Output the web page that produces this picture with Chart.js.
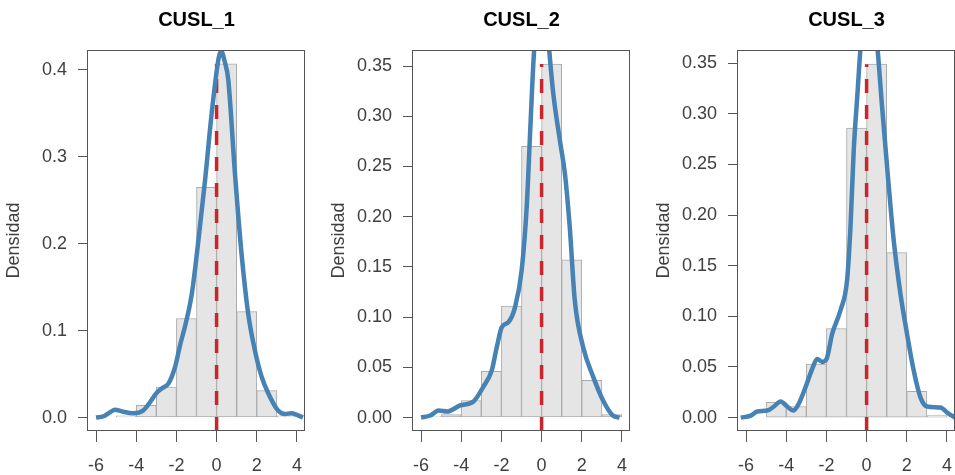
<!DOCTYPE html>
<html>
<head>
<meta charset="utf-8">
<script src="https://cdn.jsdelivr.net/npm/chart.js@4/dist/chart.umd.min.js"></script>
<style>
  html, body { margin: 0; padding: 0; background: #fff; width: 955px; height: 475px; overflow: hidden; }
  .panel { position: absolute; top: 0; }
</style>
</head>
<body>
<canvas id="c1" class="panel" width="320" height="475" style="left:0px"></canvas>
<canvas id="c2" class="panel" width="320" height="475" style="left:325px"></canvas>
<canvas id="c3" class="panel" width="320" height="475" style="left:650px"></canvas>
<script>
// histogram bins (width 1, from -6 to 4)
const binCenters = [-5.5, -4.5, -3.5, -2.5, -1.5, -0.5, 0.5, 1.5, 2.5, 3.5];
const xTicks = [-6, -4, -2, 0, 2, 4];
const yTicks1 = [0, 0.1, 0.2, 0.3, 0.4];
const yTicks23 = [0, 0.05, 0.10, 0.15, 0.20, 0.25, 0.30, 0.35];

// CUSL_1
const bars1 = [0, 0.002, 0.014, 0.035, 0.114, 0.265, 0.407, 0.122, 0.031, 0.002];
const densX1 = [-6.0, -5.63, -5.3, -5.06, -4.7, -4.15, -3.66, -3.3, -3.0, -2.7, -2.4, -2.07, -1.8, -1.57, -1.23, -0.9, -0.57, -0.24, 0.09, 0.22, 0.4, 0.58, 0.91, 1.24, 1.57, 1.9, 2.24, 2.57, 3.06, 3.4, 3.73, 4.0, 4.3];
const densY1 = [0, 0.0015, 0.006, 0.009, 0.007, 0.005, 0.008, 0.018, 0.028, 0.034, 0.039, 0.058, 0.085, 0.105, 0.143, 0.205, 0.274, 0.351, 0.412, 0.422, 0.41, 0.389, 0.282, 0.189, 0.12, 0.078, 0.047, 0.028, 0.008, 0.004, 0.005, 0.003, 0];

// CUSL_2
const bars2 = [0.001, 0.003, 0.017, 0.046, 0.111, 0.270, 0.352, 0.157, 0.037, 0.003];
const densX2 = [-6.0, -5.54, -5.12, -4.71, -4.05, -3.39, -2.89, -2.48, -2.23, -1.98, -1.65, -1.32, -0.99, -0.74, -0.55, -0.38, -0.15, 0.05, 0.25, 0.38, 0.58, 0.91, 1.16, 1.4, 1.65, 2.07, 2.56, 3.06, 3.55, 3.88];
const densY2 = [0, 0.002, 0.007, 0.006, 0.012, 0.016, 0.031, 0.047, 0.07, 0.09, 0.095, 0.11, 0.147, 0.21, 0.293, 0.363, 0.41, 0.43, 0.4, 0.366, 0.323, 0.276, 0.243, 0.19, 0.117, 0.07, 0.041, 0.017, 0.002, 0];

// CUSL_3
const bars3 = [0, 0.015, 0.011, 0.053, 0.088, 0.286, 0.349, 0.163, 0.026, 0.002];
const densX3 = [-6.26, -5.77, -5.44, -4.94, -4.61, -4.28, -3.95, -3.65, -3.37, -3.04, -2.71, -2.46, -2.21, -1.99, -1.71, -1.3, -0.97, -0.8, -0.64, -0.44, -0.31, -0.1, 0.12, 0.35, 0.55, 0.77, 1.02, 1.35, 1.68, 2.01, 2.34, 2.68, 3.01, 3.67, 4.08, 4.41];
const densY3 = [0, 0.002, 0.006, 0.007, 0.011, 0.016, 0.011, 0.007, 0.014, 0.03, 0.048, 0.058, 0.055, 0.058, 0.083, 0.106, 0.136, 0.189, 0.264, 0.324, 0.363, 0.4, 0.415, 0.4, 0.363, 0.307, 0.248, 0.175, 0.123, 0.083, 0.047, 0.02, 0.011, 0.01, 0.004, 0];

const FONT = '"Liberation Sans", Arial, sans-serif';

// draws the frame around the plot region
const boxPlugin = {
    id: 'box',
    afterDraw(chart) {
        const a = chart.chartArea;
        const ctx = chart.ctx;
        ctx.save();
        ctx.strokeStyle = '#555';
        ctx.lineWidth = 1;
        ctx.strokeRect(Math.round(a.left) - 0.5, Math.round(a.top) + 0.5,
            Math.round(a.right - a.left), Math.round(a.bottom - a.top) - 1);
        ctx.restore();
    }
};

function makePanel(id, title, bars, densX, densY, yMin, yMax, yTicks, decimals) {
    const barData = binCenters.map((x, i) => ({ x: x, y: bars[i] }));
    const densData = densX.map((x, i) => ({ x: x, y: densY[i] }));
    const meanLine = [{ x: 0, y: yMin }, { x: 0, y: Math.max(...bars) }];

    return new Chart(document.getElementById(id), {
        type: 'bar',
        data: {
            datasets: [
                {
                    type: 'line',
                    data: densData,
                    borderColor: '#4682B4',
                    borderWidth: 4.5,
                    pointRadius: 0,
                    cubicInterpolationMode: 'monotone',
                    fill: false,
                    clip: 0,
                    order: 1
                },
                {
                    type: 'line',
                    data: meanLine,
                    borderColor: '#C9252B',
                    borderWidth: 3.5,
                    borderDash: [14, 12],
                    pointRadius: 0,
                    fill: false,
                    order: 2
                },
                {
                    type: 'bar',
                    data: barData,
                    backgroundColor: '#E5E5E5',
                    borderColor: '#ABABAB',
                    borderWidth: 1,
                    borderSkipped: false,
                    categoryPercentage: 1,
                    barPercentage: 1,
                    order: 3
                }
            ]
        },
        options: {
            responsive: false,
            animation: false,
            layout: { padding: { left: 0, right: 15, top: 0, bottom: 0 } },
            plugins: {
                legend: { display: false },
                tooltip: { enabled: false },
                title: {
                    display: true,
                    text: title,
                    fullSize: false,
                    color: '#000',
                    font: { family: FONT, size: 20, weight: 'bold' },
                    padding: { top: 8, bottom: 18 }
                }
            },
            scales: {
                x: {
                    type: 'linear',
                    offset: false,
                    min: -6.4,
                    max: 4.4,
                    afterBuildTicks: (s) => { s.ticks = xTicks.map(v => ({ value: v })); },
                    afterFit: (s) => { s.height = 44; },
                    grid: { offset: false, drawOnChartArea: false, drawTicks: true, tickLength: 11, color: '#555' },
                    border: { display: false },
                    ticks: {
                        color: '#404040',
                        font: { family: FONT, size: 18 },
                        padding: 13,
                        maxRotation: 0,
                        callback: (v) => String(v)
                    }
                },
                y: {
                    min: yMin,
                    max: yMax,
                    afterBuildTicks: (s) => { s.ticks = yTicks.map(v => ({ value: v })); },
                    afterFit: (s) => { s.width = 88; },
                    grid: { drawOnChartArea: false, drawTicks: true, tickLength: 10, color: '#555' },
                    border: { display: false },
                    ticks: {
                        color: '#404040',
                        font: { family: FONT, size: 18 },
                        padding: 11,
                        callback: (v) => Number(v).toFixed(decimals)
                    },
                    title: {
                        display: true,
                        text: 'Densidad',
                        color: '#404040',
                        font: { family: FONT, size: 18 },
                        padding: { top: 3, bottom: 0 }
                    }
                }
            }
        },
        plugins: [boxPlugin]
    });
}

makePanel('c1', 'CUSL_1', bars1, densX1, densY1, -0.0155, 0.423, yTicks1, 1);
makePanel('c2', 'CUSL_2', bars2, densX2, densY2, -0.0134, 0.366, yTicks23, 2);
makePanel('c3', 'CUSL_3', bars3, densX3, densY3, -0.0132, 0.363, yTicks23, 2);
</script>
</body>
</html>
